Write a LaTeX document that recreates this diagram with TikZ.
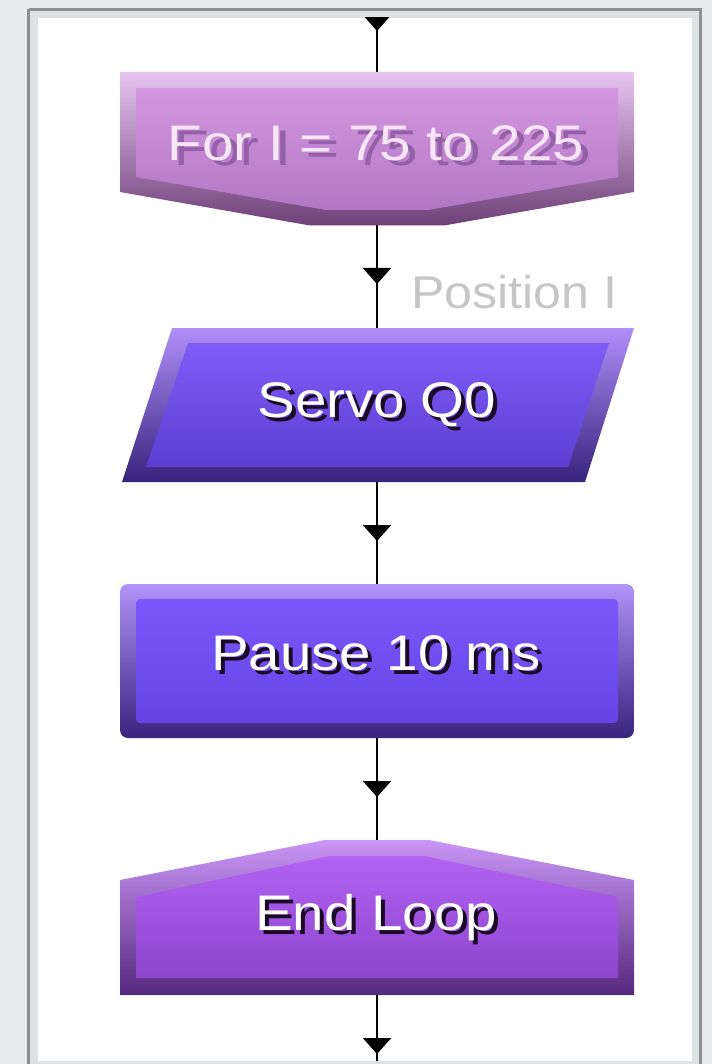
\documentclass[tikz,border=0pt]{standalone}
\usepackage{fontspec}
\setmainfont{Liberation Sans}
\usetikzlibrary{arrows.meta,decorations.markings}

% page and frame
\definecolor{pagegrey}{HTML}{E8EAED}
\definecolor{framedark}{HTML}{8C8E91}
\definecolor{framelight}{HTML}{DEE1E4}
% loop start block
\definecolor{forOutTop}{HTML}{E8C6F0}
\definecolor{forOutBot}{HTML}{6E4078}
\definecolor{forInTop}{HTML}{D496E0}
\definecolor{forInBot}{HTML}{B277C4}
\definecolor{forText}{HTML}{F6E6F6}
\definecolor{forShade}{HTML}{9460A8}
% servo output block
\definecolor{srvOutTop}{HTML}{B08EFA}
\definecolor{srvOutBot}{HTML}{36237C}
\definecolor{srvInTop}{HTML}{7E5DF6}
\definecolor{srvInBot}{HTML}{5B3FD4}
% pause block
\definecolor{psOutTop}{HTML}{B292F9}
\definecolor{psOutBot}{HTML}{38247E}
\definecolor{psInTop}{HTML}{7A57FA}
\definecolor{psInBot}{HTML}{6445E4}
% loop end block
\definecolor{endOutTop}{HTML}{CA96F7}
\definecolor{endOutBot}{HTML}{54287C}
\definecolor{endInTop}{HTML}{B262F2}
\definecolor{endInBot}{HTML}{8C45CC}
\definecolor{dropshade}{HTML}{1A0A26}
\definecolor{labelgrey}{HTML}{C6C6C6}

\tikzset{
  anchorbox/.style={rectangle, draw=none, inner sep=0pt, outer sep=0pt},
  flow/.style={line width=2pt, black, postaction={decorate},
    decoration={markings, mark=at position 59pt with
      {\arrow{Triangle[length=16pt,width=28pt]}}}},
  boxtext/.style={anchor=base, inner sep=0pt, font=\fontsize{50}{52}\selectfont},
  edgelabel/.style={anchor=base west, inner sep=0pt, text=labelgrey,
    font=\fontsize{46}{48}\selectfont},
}

\begin{document}
\begin{tikzpicture}[x=1pt,y=-1pt]
  % page, frame and white drawing area
  \fill[pagegrey] (0,0) rectangle (712,1064);
  \useasboundingbox (0,0) rectangle (712,1064);
  \fill[framelight] (29,10) rectangle (700,1075);
  \draw[framedark, line width=3pt] (28.5,9.5) -- (700.5,9.5) -- (700.5,1075)
    (28.5,9.5) -- (28.5,1075);
  \fill[white] (38,18) rectangle (692,1061);

  % block extents used by the connectors
  \node[anchorbox, minimum width=514pt, minimum height=153pt] (for)   at (377,148.5) {};
  \node[anchorbox, minimum width=510pt, minimum height=154pt] (servo) at (377,405) {};
  \node[anchorbox, minimum width=514pt, minimum height=154pt] (pause) at (377,661) {};
  \node[anchorbox, minimum width=514pt, minimum height=155pt] (endloop) at (377,917.5) {};
  \coordinate (entry) at (377,-28);
  \coordinate (exit) at (377,1061);

  % connectors
  \begin{scope}
    \clip (38,18) rectangle (692,1061);
    \draw[flow] (entry) -- (for.north);
    \draw[flow] (for.south) -- (servo.north);
    \draw[flow] (servo.south) -- (pause.north);
    \draw[flow] (pause.south) -- (endloop.north);
    \draw[flow] (endloop.south) -- (exit);
  \end{scope}

  % For loop block
  \shade[top color=forOutTop, bottom color=forOutBot]
    (120,72) -- (634,72) -- (634,192) -- (444,225.5) -- (310,225.5) -- (120,192) -- cycle;
  \shade[top color=forInTop, bottom color=forInBot]
    (136,88) -- (618,88) -- (618,177) -- (428,210) -- (326,210) -- (136,177) -- cycle;
  \node[boxtext, text=forShade] (forshadow) at (383,166)
    {\scalebox{1.13}[1]{For I = 75 to 225}};
  \node[boxtext, text=forText] (fortext) at (376,161)
    {\scalebox{1.13}[1]{For I = 75 to 225}};

  % edge label
  \node[edgelabel] (poslabel) at (411,308) {\scalebox{1.09}[1]{Position I}};

  % Servo output block
  \shade[top color=srvOutTop, bottom color=srvOutBot]
    (172,328) -- (634,328) -- (585,482) -- (122,482) -- cycle;
  \shade[top color=srvInTop, bottom color=srvInBot]
    (188,343) -- (609,343) -- (568,467) -- (146,467) -- cycle;
  \node[boxtext, text=dropshade] (servoshadow) at (381,421)
    {\scalebox{1.13}[1]{Servo Q0}};
  \node[boxtext, text=white] (servotext) at (377,417)
    {\scalebox{1.13}[1]{Servo Q0}};

  % Pause block
  \shade[top color=psOutTop, bottom color=psOutBot, rounded corners=8pt]
    (120,584) rectangle (634,738);
  \shade[top color=psInTop, bottom color=psInBot, rounded corners=4pt]
    (136,599) rectangle (618,723);
  \node[boxtext, text=dropshade] (pauseshadow) at (380,674)
    {\scalebox{1.13}[1]{Pause 10 ms}};
  \node[boxtext, text=white] (pausetext) at (376,670)
    {\scalebox{1.13}[1]{Pause 10 ms}};

  % End loop block
  \shade[top color=endOutTop, bottom color=endOutBot]
    (120,995) -- (120,880) -- (325,840) -- (429,840) -- (634,880) -- (634,995) -- cycle;
  \shade[top color=endInTop, bottom color=endInBot]
    (136,978) -- (136,897) -- (330,856) -- (424,856) -- (618,897) -- (618,978) -- cycle;
  \node[boxtext, text=dropshade] (endshadow) at (380,934)
    {\scalebox{1.13}[1]{End Loop}};
  \node[boxtext, text=white] (endtext) at (376,930)
    {\scalebox{1.13}[1]{End Loop}};
\end{tikzpicture}
\end{document}
